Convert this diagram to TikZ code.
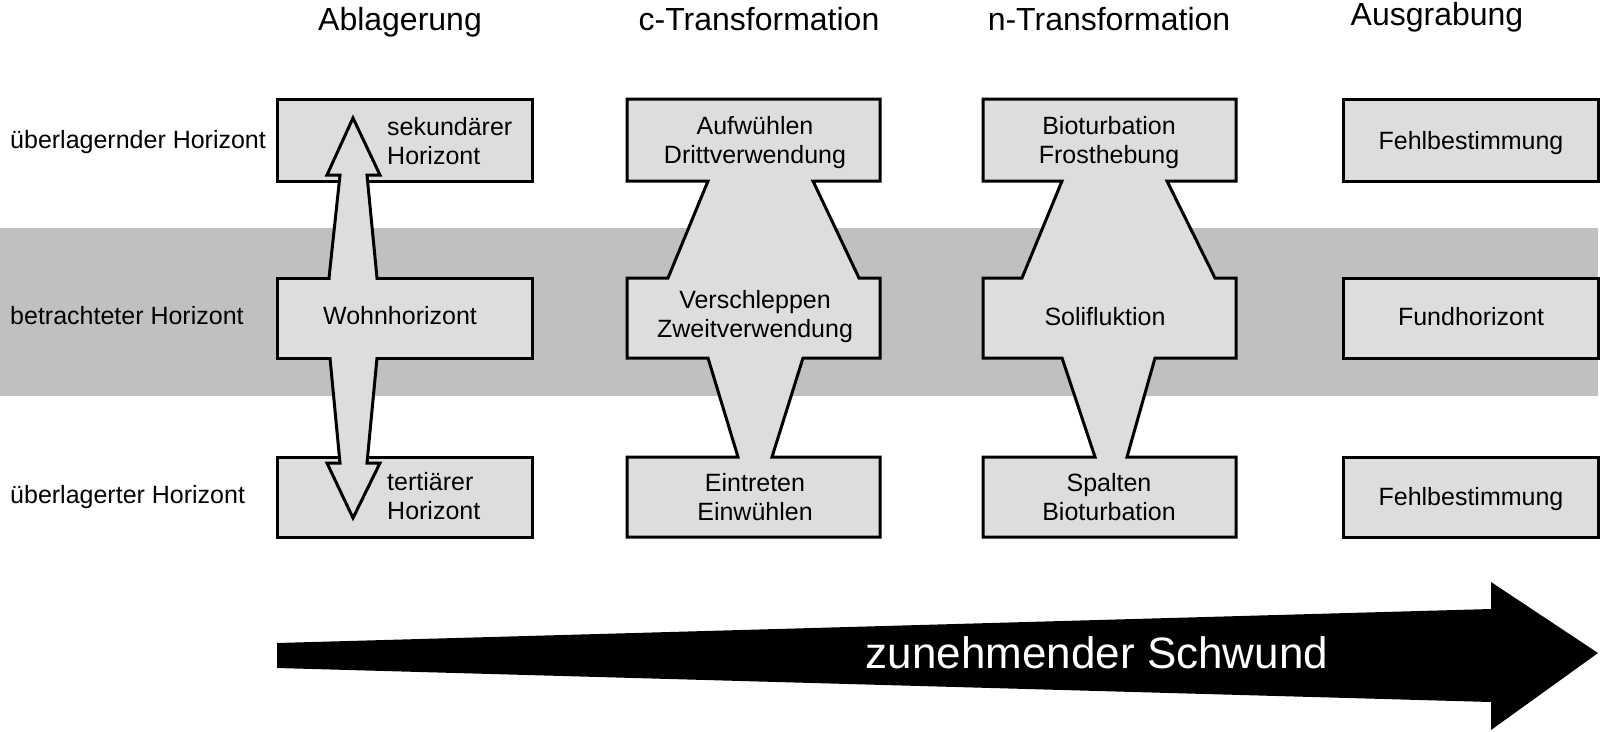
\documentclass[tikz,border=0pt]{standalone}
\usepackage{fontspec}
\setmainfont{Liberation Sans}
\definecolor{bandgray}{HTML}{C0C0C0}
\definecolor{boxgray}{HTML}{DDDDDD}
\begin{document}
\begin{tikzpicture}[x=1pt,y={(0pt,-1pt)},
  outl/.style={fill=boxgray,draw=black,line width=3pt,line join=miter},
  lbl/.style={inner sep=0pt,font=\fontsize{25}{29}\selectfont},
  ttl/.style={inner sep=0pt,anchor=base,font=\fontsize{32}{36}\selectfont}]
\useasboundingbox (0,0) rectangle (1600,731);
% band
\fill[bandgray] (0,228) rectangle (1598,396);
% column 1
\draw[outl] (277,99) rectangle (532,181);
\draw[outl] (277,278) rectangle (532,358);
\draw[outl] (277,457) rectangle (532,537);
\draw[outl] (353,118) -- (380,175) -- (367,175) -- (377,278) -- (377,358) -- (367,463) -- (380,463) -- (353,518) -- (327,463) -- (340,463) -- (330,358) -- (329,278) -- (340,175) -- (327,175) -- cycle;
\fill[boxgray] (278.5,279.5) rectangle (530.5,356.5);
% column 2
\draw[outl] (627,99) -- (880,99) -- (880,181) -- (813,181) -- (859,278) -- (880,278) -- (880,358) -- (803,358) -- (772,457) -- (880,457) -- (880,537) -- (627,537) -- (627,457) -- (738,457) -- (708,358) -- (627,358) -- (627,278) -- (668,278) -- (708,181) -- (627,181) -- cycle;
% column 3
\draw[outl] (983,99) -- (1236,99) -- (1236,181) -- (1167,181) -- (1215,278) -- (1236,278) -- (1236,358) -- (1155,358) -- (1127,457) -- (1236,457) -- (1236,537) -- (983,537) -- (983,457) -- (1095,457) -- (1062,358) -- (983,358) -- (983,278) -- (1022,278) -- (1062,181) -- (983,181) -- cycle;
% column 4
\draw[outl] (1343,99) rectangle (1598,181);
\draw[outl] (1343,278) rectangle (1598,358);
\draw[outl] (1343,457) rectangle (1598,537);
% titles
\node[ttl] (t1) at (400,30) {Ablagerung};
\node[ttl] (t2) at (759,30) {c-Transformation};
\node[ttl] (t3) at (1109,30) {n-Transformation};
\node[ttl] (t4) at (1437,25) {Ausgrabung};
% row labels
\node[lbl,anchor=base west] (r1) at (10,148) {überlagernder Horizont};
\node[lbl,anchor=base west] (r2) at (10,324) {betrachteter Horizont};
\node[lbl,anchor=base west] (r3) at (10,503) {überlagerter Horizont};
% column 1 texts
\node[lbl,align=left,anchor=west] (a1) at (387,141.5) {sekundärer\\Horizont};
\node[lbl,anchor=base] (a2) at (400,324) {Wohnhorizont};
\node[lbl,align=left,anchor=west] (a3) at (387,496) {tertiärer\\Horizont};
% column 2 texts
\node[lbl,align=center] (c1) at (755,143) {Aufwühlen\\Drittverwendung};
\node[lbl,align=center] (c2) at (755,317) {Verschleppen\\Zweitverwendung};
\node[lbl,align=center] (c3) at (755,497.5) {Eintreten\\Einwühlen};
% column 3 texts
\node[lbl,align=center] (n1) at (1109,143) {Bioturbation\\Frosthebung};
\node[lbl,anchor=base] (n2) at (1105,325) {Solifluktion};
\node[lbl,align=center] (n3) at (1109,497.5) {Spalten\\Bioturbation};
% column 4 texts
\node[lbl,anchor=base] (g1) at (1471,149) {Fehlbestimmung};
\node[lbl,anchor=base] (g2) at (1471,325) {Fundhorizont};
\node[lbl,anchor=base] (g3) at (1471,505) {Fehlbestimmung};
% bottom arrow
\fill[black] (277,643) -- (1491,609) -- (1491,582) -- (1598,653) -- (1491,730) -- (1491,702) -- (277,668) -- cycle;
\node[inner sep=0pt,anchor=base,text=white,font=\fontsize{44}{50}\selectfont] (sw) at (1097,668) {zunehmender Schwund};
\end{tikzpicture}
\end{document}
